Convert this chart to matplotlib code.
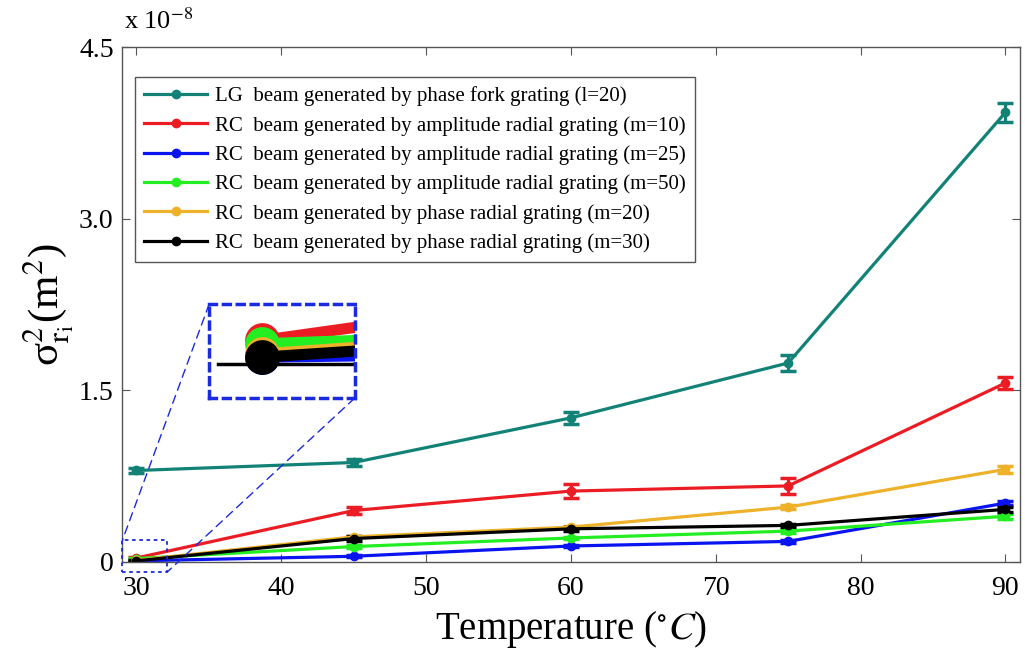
import matplotlib
matplotlib.use("Agg")
import matplotlib.pyplot as plt
from matplotlib.patches import Rectangle, ConnectionPatch
from matplotlib.lines import Line2D

plt.rcParams['font.family'] = ['Liberation Serif', 'DejaVu Serif']
plt.rcParams['mathtext.fontset'] = 'stix'

temperature = [30, 45, 60, 75, 90]
labels = [
    "LG  beam generated by phase fork grating (l=20)",
    "RC  beam generated by amplitude radial grating (m=10)",
    "RC  beam generated by amplitude radial grating (m=25)",
    "RC  beam generated by amplitude radial grating (m=50)",
    "RC  beam generated by phase radial grating (m=20)",
    "RC  beam generated by phase radial grating (m=30)",
]
colors = ['#128277', '#ec1c24', '#0a14f0', '#22ee22', '#edb12a', '#000000']

lg_l20 = [0.80, 0.87, 1.26, 1.74, 3.93]
lg_l20_err = [0.02, 0.03, 0.05, 0.07, 0.08]
rc_amp_m10 = [0.035, 0.45, 0.62, 0.665, 1.565]
rc_amp_m10_err = [0.01, 0.03, 0.06, 0.07, 0.05]
rc_amp_m25 = [0.01, 0.05, 0.14, 0.18, 0.515]
rc_amp_m25_err = [0.005, 0.01, 0.01, 0.01, 0.02]
rc_amp_m50 = [0.03, 0.135, 0.21, 0.27, 0.40]
rc_amp_m50_err = [0.005, 0.01, 0.01, 0.015, 0.02]
rc_ph_m20 = [0.015, 0.22, 0.305, 0.48, 0.81]
rc_ph_m20_err = [0.005, 0.01, 0.01, 0.015, 0.03]
rc_ph_m30 = [0.01, 0.205, 0.29, 0.32, 0.46]
rc_ph_m30_err = [0.005, 0.02, 0.015, 0.01, 0.02]

series = [lg_l20, rc_amp_m10, rc_amp_m25, rc_amp_m50, rc_ph_m20, rc_ph_m30]
errors = [lg_l20_err, rc_amp_m10_err, rc_amp_m25_err, rc_amp_m50_err, rc_ph_m20_err, rc_ph_m30_err]

yticks = [0, 1.5, 3.0, 4.5]
ytick_labels = ['0', '1.5', '3.0', '4.5']
xticks = [30, 40, 50, 60, 70, 80, 90]

fig = plt.figure(figsize=(10.25, 6.57), dpi=100)
ax = fig.add_axes([0.119, 0.1446, 0.876, 0.7834])

for y, e, c in zip(series, errors, colors):
    ax.errorbar(temperature, y, yerr=e, color=c, lw=2.3, marker='o', ms=6,
                capsize=6, capthick=2.5, elinewidth=2.3)

ax.set_xlim(29, 91)
ax.set_ylim(0, 4.5)
ax.set_xticks(xticks)
ax.set_yticks(yticks)
ax.set_yticklabels(ytick_labels)
ax.tick_params(direction='in', top=True, right=True, labelsize=20, length=6,
               color='#555555')
ax.tick_params(axis='x', pad=10)
ax.tick_params(axis='y', pad=6)
for s in ax.spines.values():
    s.set_color('#555555')
    s.set_linewidth(1.0)

ax.set_xlabel(r'Temperature ($^{\circ}\mathit{C}$)', fontsize=28, labelpad=6)
ax.set_ylabel(r'σ$^{2}_{\mathrm{r_i}}$(m$^{2}$)', fontsize=31, labelpad=2)
fig.text(0.121, 0.948, r'x 10$^{-8}$', fontsize=19, ha='left', va='bottom')

handles = [Line2D([], [], color=c, lw=2.3, marker='o', ms=6) for c in colors]
leg = ax.legend(handles, labels, loc='upper left', bbox_to_anchor=(0.0145, 0.942), borderaxespad=0,
                fontsize=15, handlelength=3.0, labelspacing=0.46, fancybox=False,
                edgecolor='#555555', framealpha=1, borderpad=0.45, handletextpad=0.4)
leg.get_frame().set_linewidth(1.0)

# source rectangle of the zoom
src = Rectangle((29.03, -0.087), 3.1, 0.277, fill=False, ec='#1a2ae0', ls=(0, (2, 2)),
                lw=1.3, clip_on=False, zorder=5)
ax.add_patch(src)

# inset
axin = fig.add_axes([0.204, 0.394, 0.142, 0.143])
for y, c in zip(series[1:], colors[1:]):
    axin.plot(temperature, y, color=c, lw=8, marker='o', ms=24, solid_capstyle='butt')
axin.axhline(0, xmin=0.06, xmax=1, color='black', lw=2.5)
axin.set_xlim(29.6, 30.7)
axin.set_ylim(-0.051, 0.089)
axin.set_xticks([])
axin.set_yticks([])
for s in axin.spines.values():
    s.set_color('#1a2ae0')
    s.set_linestyle((0, (2, 2)))
    s.set_linewidth(2.5)

con1 = ConnectionPatch(xyA=(0, 1), coordsA=axin.transAxes, xyB=(29.03, 0.19), coordsB=ax.transData,
                       color='#1a2ae0', ls=(0, (6, 4)), lw=1.0)
con2 = ConnectionPatch(xyA=(1, 0), coordsA=axin.transAxes, xyB=(32.13, -0.087), coordsB=ax.transData,
                       color='#1a2ae0', ls=(0, (6, 4)), lw=1.0)
fig.add_artist(con1)
fig.add_artist(con2)

fig.savefig('out.png', dpi=100)
